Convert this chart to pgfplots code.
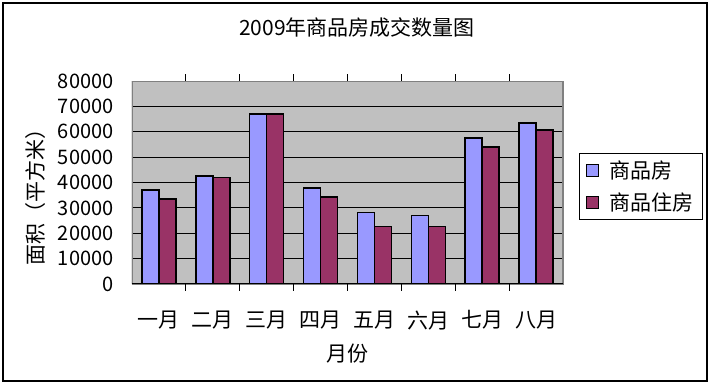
\documentclass[border=0pt]{standalone}
\usepackage{fontspec}
\setmainfont{Noto Sans CJK SC}
\usepackage{pgfplots}
\pgfplotsset{compat=1.18}
\definecolor{barblue}{HTML}{9999FF}
\definecolor{barred}{HTML}{993366}
\definecolor{plotgray}{HTML}{C0C0C0}
\definecolor{bordergray}{HTML}{808080}
\newcommand{\numfont}{\fontsize{20}{24}\selectfont}
\newcommand{\bigfont}{\fontsize{21}{25}\selectfont}
\begin{document}
\begin{tikzpicture}[x=1pt,y=1pt]
\useasboundingbox (0,0) rectangle (710,385);
\fill[white] (0,0) rectangle (710,385);
\draw[line width=1.2pt] (3,4) rectangle (707,382);
\begin{axis}[
  at={(132pt,101pt)}, anchor=south west,
  scale only axis, width=431pt, height=203pt,
  ybar=0pt, bar width=17pt,
  xmin=0.5, xmax=8.5, ymin=0, ymax=80000,
  ytick={0,10000,...,80000},
  scaled y ticks=false,
  /pgf/number format/fixed,
  /pgf/number format/1000 sep={},
  /pgf/number format/assume math mode=true,
  xtick={1,...,8},
  xticklabels={一月,二月,三月,四月,五月,六月,七月,八月},
  extra x ticks={1.5,2.5,...,7.5},
  extra x tick labels={},
  extra x tick style={major tick length=7pt, tick style={black, line width=0.8pt}, grid=none},
  major tick length=0pt,
  ymajorgrids,
  major grid style={black, line width=0.8pt},
  axis background/.style={fill=plotgray},
  axis line style={bordergray, line width=0.8pt},
  yticklabel style={font=\numfont, xshift=-15pt},
  xticklabel style={font=\bigfont, yshift=-23pt},
  label style={font=\bigfont},
  xlabel={月份},
  xlabel style={at={(axis description cs:0.5,-0.345)}, anchor=center},
  ylabel={面积（平方米）},
  ylabel style={at={(axis description cs:-0.225,0.455)}, anchor=center},
  title={2009年商品房成交数量图},
  title style={font=\bigfont, at={(axis description cs:0.522,1.232)}, anchor=center},
  legend style={at={(axis description cs:1.037,0.48)}, anchor=west, draw=black, fill=white, font=\bigfont, line width=0.8pt, row sep=9pt, column sep=8pt, inner xsep=7pt, inner ysep=5pt},
  legend cell align=left,
]
\addplot[fill=barblue, draw=black, line width=1.6pt,
  legend image code/.code={\draw[fill=barblue, draw=black, line width=1pt] (0pt,-6pt) rectangle (12pt,6pt);}]
  coordinates {(1,37000) (2,42500) (3,67000) (4,37800) (5,28100) (6,27000) (7,57500) (8,63500)};
\addplot[fill=barred, draw=black, line width=1.6pt,
  legend image code/.code={\draw[fill=barred, draw=black, line width=1pt] (0pt,-6pt) rectangle (12pt,6pt);}]
  coordinates {(1,33600) (2,41900) (3,67000) (4,34400) (5,22600) (6,22600) (7,54100) (8,60700)};
\legend{商品房,商品住房}
\draw[bordergray, line width=1pt] (axis cs:0.5,80000) -- (axis cs:8.5,80000) -- (axis cs:8.5,0);
\draw[black, line width=1pt] (axis cs:0.5,80000) -- (axis cs:0.5,0) -- (axis cs:8.5,0);
\end{axis}
\end{tikzpicture}
\end{document}
